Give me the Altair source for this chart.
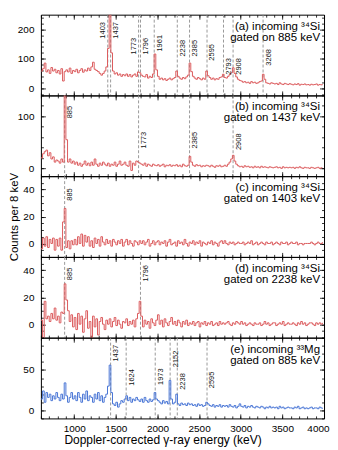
import altair as alt
import pandas as pd

FONT = "Liberation Sans"
RED = "#dc5c5e"
BLUE = "#4a76d6"

# ---------------- data ----------------
BIN_START = 600
BIN_WIDTH = 20
N_BINS = 170
energy = [BIN_START + BIN_WIDTH * i for i in range(N_BINS)]

counts_a = [
    58, 66, 85, 55, 62, 50, 70, 58, 64, 52,
    60, 48, 66, 24, 56, 62, 55, 68, 50, 60,
    56, 64, 52, 60, 66, 54, 62, 58, 68, 60,
    72, 88, 64, 60, 56, 50, 44, 50, 58, 72,
    135, 262, 120, 58, 48, 52, 44, 48, 40, 46,
    42, 48, 40, 46, 38, 44, 48, 40, 55, 52,
    44, 40, 38, 46, 34, 40, 36, 48, 116, 62,
    40, 30, 34, 28, 32, 26, 30, 34, 28, 32,
    36, 58, 40, 34, 30, 36, 32, 38, 44, 85,
    56, 40, 34, 30, 36, 32, 28, 34, 30, 58,
    42, 36, 30, 34, 28, 32, 30, 36, 38, 47,
    36, 34, 40, 46, 52, 69, 50, 38, 30, 26,
    24, 20, 22, 18, 20, 16, 22, 18, 20, 16,
    18, 22, 24, 47, 30, 18, 16, 14, 18, 16,
    14, 16, 12, 18, 14, 12, 16, 14, 12, 15,
    13, 11, 14, 12, 15, 10, 13, 12, 14, 11,
    12, 10, 13, 11, 12, 14, 10, 12, 11, 13,
]
counts_b = [
    20, 28, 32, 35, 24, 30, 18, 22, 12, 16,
    14, 10, 18, 12, 170, 55, 12, 18, 10, 14,
    8, 12, 6, 10, 4, 8, 14, 6, 10, 5,
    12, 6, 18, 8, 4, 10, 6, 12, 8, 5,
    10, 4, 8, 6, 12, 4, 8, 14, 6, 8,
    12, 6, 4, 14, -4, 10, 6, 14, 12, 10,
    8, 6, 10, 4, 8, 6, 4, 8, 6, 5,
    7, 4, 6, 8, 3, 6, 5, 7, 4, 6,
    5, 7, 4, 6, 3, 8, 5, 4, 6, 23,
    12, 6, 4, 7, 5, 6, 3, 5, 4, 6,
    5, 3, 6, 4, 2, 5, 4, 6, 3, 4,
    6, 4, 8, 12, 18, 25, 14, 8, 5, 3,
    4, 2, 5, 3, 4, 2, 3, 1, 4, 2,
    3, 1, 4, 2, 3, 2, 1, 3, 2, 1,
    2, 3, 1, 2, 0, 3, 1, 2, 1, 2,
    1, 2, 0, 2, 1, 3, 1, 0, 2, 1,
    1, 0, 2, 1, 0, 1, 2, 0, 1, 1,
]
counts_c = [
    -4, 4, -2, 5, -3, 3, 0, 4, -5, 3,
    -2, 4, -5, 16, 26, -3, 2, -4, 2, -1,
    3, -1, 5, 0, 7, -2, 6, 1, 5, -2,
    2, -3, 4, 0, 3, -2, 5, 1, -1, 3,
    0, 2, -2, 3, 1, -1, 2, 0, 3, -2,
    1, 3, -1, 2, 0, -2, 2, 1, -1, 2,
    0, 2, -1, 1, 3, -2, 0, 2, -1, 1,
    2, -1, 1, 0, 2, -2, 1, 3, -1, 0,
    1, -2, 2, 0, 1, -1, 3, 0, -2, 1,
    0, 2, -1, 1, 0, 2, -2, 1, 0, -1,
    1, 0, 2, -1, 1, 0, -2, 1, 2, 0,
    2, 0, -1, 1, 0, 1, -1, 0, 1, 0,
    0, 1, -1, 0, 1, 0, 2, -1, 0, 1,
    -1, 0, 1, 0, -1, 1, 0, 0, 1, -1,
    0, 1, 0, -1, 1, 0, 0, 1, -1, 0,
    1, 0, 0, 1, -1, 0, 0, -1, 0, 0,
    0, 0, 1, 0, -1, 0, 1, 0, 0, 1,
]
counts_d = [
    3, -10, 17, 4, 6, 2, 8, 4, 12, 3,
    6, 1, 9, 8, 30, 18, 10, 2, 7, -2,
    5, -4, 8, 0, 6, -6, 4, 10, -3, 2,
    -10, 6, -2, 4, -8, 2, 5, 0, -4, 3,
    0, 4, -2, 2, 5, -1, 3, 0, -3, 2,
    1, 4, -1, 2, 0, 3, -2, 4, 8, 17,
    6, -2, 3, 0, 2, -3, 4, 1, -1, 3,
    7, 0, 3, -2, 4, 1, -1, 2, 5, 0,
    2, -1, 3, 1, -2, 2, 0, 3, -1, 1,
    0, 2, -1, 1, 2, -2, 1, 0, 2, -1,
    1, 0, 2, -1, 0, 1, -1, 2, 0, 1,
    0, 1, 2, 0, -1, 1, 0, 2, 1, 0,
    2, 0, 1, -1, 0, 1, 0, -1, 1, 0,
    0, 1, -1, 0, 2, 0, 1, -1, 0, 1,
    1, -1, 0, 1, 0, 2, -1, 0, 1, 0,
    0, 1, 0, -1, 1, 0, 2, 0, 1, -1,
    0, 1, 1, 0, -1, 1, 0, 1, 0, 1,
]
counts_e = [
    14, 24, 10, 22, 16, 20, 12, 18, 14, 22,
    16, 12, 20, 14, 34, 18, 10, 16, 22, 14,
    18, 12, 22, 16, 10, 20, 14, 24, 12, 18,
    16, 10, 20, 14, 22, 12, 18, 10, 16, 20,
    30, 56, 22, 8, 6, 10, 4, 8, 12, 10,
    14, 18, 12, 16, 10, 14, 12, 16, 13, 11,
    14, 10, 16, 12, 10, 14, 11, 13, 22, 14,
    12, 10, 8, 12, 9, 11, 8, 37, 14, 8,
    10, 20, 8, 6, 9, 7, 8, 6, 9, 7,
    8, 6, 7, 5, 8, 6, 7, 5, 6, 10,
    8, 6, 5, 7, 4, 6, 5, 7, 4, 6,
    5, 6, 4, 7, 5, 4, 6, 3, 5, 8,
    5, 4, 6, 3, 5, 4, 6, 4, 3, 5,
    4, 3, 5, 4, 2, 4, 3, 5, 3, 4,
    3, 4, 2, 5, 3, 4, 2, 3, 4, 3,
    3, 2, 4, 3, 5, 2, 3, 4, 2, 3,
    2, 3, 4, 2, 3, 3, 2, 4, 3, 2,
]

lines_a = [1403, 1437, 1773, 1796, 1961, 2238, 2385, 2595, 2793, 2908, 3268]
labely_a = [225, 225, 171, 171, 181, 164, 164, 150, 102, 102, 133]
side_a = ["L", "R", "L", "R", "R", "R", "R", "R", "R", "R", "R"]
lines_b = [885, 1773, 2385, 2908]
labely_b = [120, 70, 70, 67]
side_b = ["R", "R", "R", "R"]
lines_c = [885]
labely_c = [41]
side_c = ["R"]
lines_d = [885, 1796]
labely_d = [42, 44]
side_d = ["R", "R"]
lines_e = [1437, 1624, 1973, 2152, 2238, 2595]
labely_e = [81, 51, 52, 74, 46, 48]
side_e = ["R", "R", "R", "R", "R", "R"]

titles = [
    "(a) incoming \u00b3\u2074Si\ngated on 885 keV",
    "(b) incoming \u00b3\u2074Si\ngated on 1437 keV",
    "(c) incoming \u00b3\u2074Si\ngated on 1403 keV",
    "(d) incoming \u00b3\u2074Si\ngated on 2238 keV",
    "(e) incoming \u00b3\u00b3Mg\ngated on 885 keV",
]

x_domain = [600, 4000]
x_label_values = [1000, 1500, 2000, 2500, 3000, 3500, 4000]
x_minor_values = list(range(600, 4001, 100))

y_domains = [[-25, 250], [-15, 140], [-10, 50], [-10, 50], [-10, 90]]
y_major = [[0, 100, 200], [0, 100], [0, 20, 40], [0, 20, 40], [0, 50]]
y_minor = [list(range(-20, 241, 20)), list(range(0, 141, 20)),
           list(range(-10, 51, 5)), list(range(-10, 51, 5)), list(range(-10, 91, 10))]

W, H = 284, 81


def panel(idx, counts, color, lines, labely, sides, title):
    df = pd.DataFrame({"E": energy, "C": counts})
    xs = alt.Scale(domain=x_domain, nice=False, zero=False)
    ys = alt.Scale(domain=y_domains[idx], nice=False, zero=False)
    base = alt.Chart(df)
    last = idx == 4
    mid = idx == 2

    if last:
        x_axis = alt.Axis(orient="bottom", values=x_label_values, ticks=False, domain=False,
                          grid=False, labelPadding=5, labelFontSize=10, format="d",
                          labelFlush=True, labelFlushOffset=5,
                          title="Doppler-corrected \u03b3-ray energy (keV)",
                          titleFontSize=12, titleX=122, titleY=16, titleBaseline="top")
        x_main = alt.X("E:Q", scale=xs, axis=x_axis)
    else:
        x_main = alt.X("E:Q", scale=xs, axis=None)
    y_axis = alt.Axis(orient="left", values=y_major[idx], ticks=False, domain=False, grid=False,
                      labelPadding=7, labelFontSize=10, format="d",
                      title="Counts per 8 keV" if mid else None,
                      titleFontSize=11.5, titlePadding=3)
    line = base.mark_line(color=color, strokeWidth=1, interpolate="step-after", clip=True).encode(
        x=x_main, y=alt.Y("C:Q", scale=ys, axis=y_axis))

    def ticks(xo, yo, xv, yv, size):
        return base.mark_line(opacity=0, clip=True).encode(
            x=alt.X("E:Q", scale=xs, axis=alt.Axis(orient=xo, offset=-H, values=xv, labels=False,
                                                   domain=False, grid=False, tickSize=size, title=None)),
            y=alt.Y("C:Q", scale=ys, axis=alt.Axis(orient=yo, offset=-W, values=yv, labels=False,
                                                   domain=False, grid=False, tickSize=size, title=None)))

    t1 = ticks("top", "right", x_label_values, y_major[idx], 4.5)
    t2 = ticks("top", "right", x_minor_values, y_minor[idx], 2.5)
    t3 = ticks("bottom", "left", x_label_values, y_major[idx], 4.5)
    t4 = ticks("bottom", "left", x_minor_values, y_minor[idx], 2.5)

    ldf = pd.DataFrame({"E": lines, "Y": labely, "side": sides, "lab": [str(v) for v in lines]})
    lbase = alt.Chart(ldf)
    rules = lbase.mark_rule(color="#8e8e8e", strokeDash=[3, 2], strokeWidth=0.9).encode(
        x=alt.X("E:Q", scale=xs, axis=None))
    lab_r = lbase.transform_filter(alt.datum.side == "R").mark_text(
        angle=270, align="right", baseline="top", dy=1.5, fontSize=7.5, font=FONT, color="#111").encode(
        x=alt.X("E:Q", scale=xs, axis=None), y=alt.Y("Y:Q", scale=ys, axis=None), text="lab:N")
    lab_l = lbase.transform_filter(alt.datum.side == "L").mark_text(
        angle=270, align="right", baseline="bottom", dy=-1, fontSize=7.5, font=FONT, color="#111").encode(
        x=alt.X("E:Q", scale=xs, axis=None), y=alt.Y("Y:Q", scale=ys, axis=None), text="lab:N")
    tdf = pd.DataFrame({"t": [title]})
    ttl = alt.Chart(tdf).mark_text(align="right", baseline="top", lineBreak="\n", fontSize=11.5,
                                   lineHeight=11, font=FONT, color="black").encode(
        x=alt.value(W - 4), y=alt.value(6), text="t:N")

    return alt.layer(rules, line, t1, t2, t3, t4, lab_r, lab_l, ttl).resolve_axis(
        x="independent", y="independent").properties(width=W, height=H)


panels = [
    panel(0, counts_a, RED, lines_a, labely_a, side_a, titles[0]),
    panel(1, counts_b, RED, lines_b, labely_b, side_b, titles[1]),
    panel(2, counts_c, RED, lines_c, labely_c, side_c, titles[2]),
    panel(3, counts_d, RED, lines_d, labely_d, side_d, titles[3]),
    panel(4, counts_e, BLUE, lines_e, labely_e, side_e, titles[4]),
]

chart = alt.vconcat(*panels, spacing=0, bounds="flush").properties(
    padding={"left": 0, "top": 5, "right": 0, "bottom": 2}
).configure_view(stroke="black", strokeWidth=1).configure_axis(
    labelFont=FONT, titleFont=FONT, labelColor="black", titleColor="black",
    titleFontWeight="normal", tickColor="black", tickWidth=0.8
)

chart.save("out.html", embed_options={"renderer": "svg", "actions": False})
